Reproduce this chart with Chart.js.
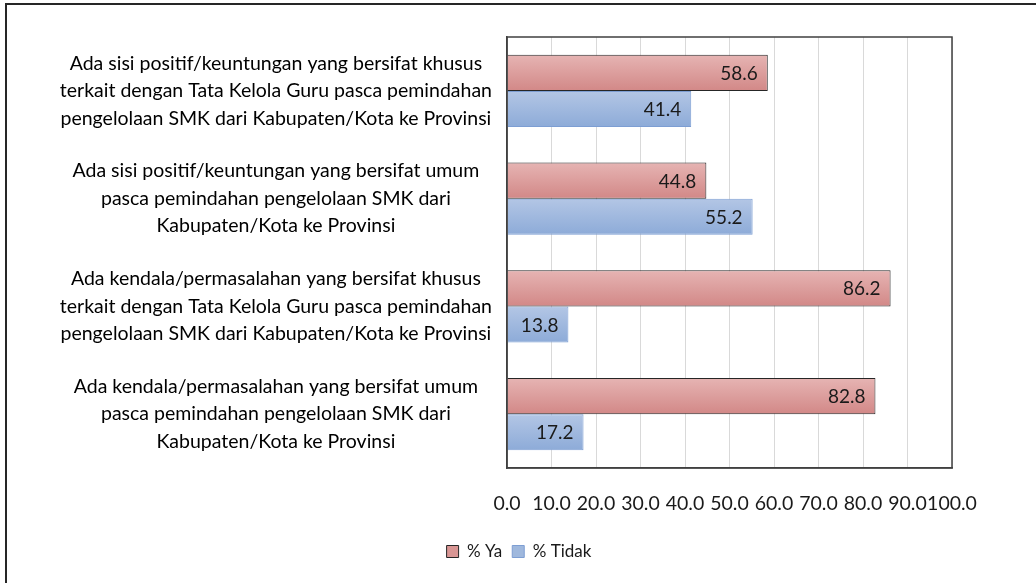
<!DOCTYPE html>
<html>
<head>
<meta charset="utf-8">
<script src="https://cdn.jsdelivr.net/npm/chart.js@4.4.1/dist/chart.umd.min.js"></script>
<style>
  html, body { margin: 0; padding: 0; background: #ffffff; overflow: hidden; }
  #wrap { position: relative; width: 1036px; height: 583px; }
  #frame { position: absolute; left: 5px; top: 3px; width: 1100px; height: 700px;
           border-left: 2px solid #262626; border-top: 2px solid #262626; pointer-events: none; }
  canvas { display: block; }
</style>
</head>
<body>
<div id="wrap">
  <canvas id="c" width="1036" height="583"></canvas>
  <div id="frame"></div>
</div>
<script>
const categories = [
  ["Ada sisi positif/keuntungan yang bersifat khusus", "terkait dengan Tata Kelola Guru pasca pemindahan", "pengelolaan SMK dari Kabupaten/Kota ke Provinsi"],
  ["Ada sisi positif/keuntungan yang bersifat umum", "pasca pemindahan pengelolaan SMK dari", "Kabupaten/Kota ke Provinsi"],
  ["Ada kendala/permasalahan yang bersifat khusus", "terkait dengan Tata Kelola Guru pasca pemindahan", "pengelolaan SMK dari Kabupaten/Kota ke Provinsi"],
  ["Ada kendala/permasalahan yang bersifat umum", "pasca pemindahan pengelolaan SMK dari", "Kabupaten/Kota ke Provinsi"]
];
const seriesNames = ["% Ya", "% Tidak"];
const yaValues = [58.6, 44.8, 86.2, 82.8];
const tidakValues = [41.4, 55.2, 13.8, 17.2];
const xTickLabels = ["0.0", "10.0", "20.0", "30.0", "40.0", "50.0", "60.0", "70.0", "80.0", "90.0", "100.0"];

const FONT = "Lato, 'Open Sans', sans-serif";
const CAT_PCT = 0.67;

function barGradient(top, bottom, datasetIndex) {
  return function (ctx) {
    const chart = ctx.chart;
    const ys = chart.scales.y;
    if (!ys || ctx.dataIndex === undefined || !chart.chartArea) return top;
    const center = ys.getPixelForValue(ctx.dataIndex);
    const group = (ys.height / categories.length) * CAT_PCT;
    const t = center - group / 2 + datasetIndex * group / 2;
    const b = t + group / 2;
    const g = chart.ctx.createLinearGradient(0, t, 0, b);
    g.addColorStop(0, top);
    g.addColorStop(1, bottom);
    return g;
  };
}

const valueLabels = {
  id: 'valueLabels',
  afterDatasetsDraw(chart) {
    const ctx = chart.ctx;
    ctx.save();
    ctx.font = "19px " + FONT;
    ctx.fillStyle = "#1a1a1a";
    ctx.textAlign = "right";
    ctx.textBaseline = "middle";
    chart.data.datasets.forEach((ds, di) => {
      const meta = chart.getDatasetMeta(di);
      meta.data.forEach((el, i) => {
        ctx.fillText(ds.data[i].toFixed(1), el.x - 10, el.y + 1);
      });
    });
    ctx.restore();
  }
};

const plotBorder = {
  id: 'plotBorder',
  afterDraw(chart) {
    const a = chart.chartArea;
    const ctx = chart.ctx;
    ctx.save();
    ctx.strokeStyle = "#404040";
    ctx.lineWidth = 1.5;
    ctx.strokeRect(a.left, a.top, a.right - a.left, a.bottom - a.top);
    ctx.restore();
  }
};

new Chart(document.getElementById('c'), {
  type: 'bar',
  data: {
    labels: categories,
    datasets: [
      {
        label: seriesNames[0],
        data: yaValues,
        backgroundColor: barGradient("#e6b4b3", "#d28887", 0),
        borderColor: "#262626",
        borderWidth: 1,
        borderSkipped: 'left',
        categoryPercentage: CAT_PCT,
        barPercentage: 1.0
      },
      {
        label: seriesNames[1],
        data: tidakValues,
        backgroundColor: barGradient("#b3c6e5", "#8dabd8", 1),
        borderColor: "#7d9ed3",
        borderWidth: 1,
        borderSkipped: 'left',
        categoryPercentage: CAT_PCT,
        barPercentage: 1.0
      }
    ]
  },
  options: {
    indexAxis: 'y',
    responsive: false,
    animation: false,
    devicePixelRatio: 1,
    layout: { padding: { left: 10, right: 8, top: 37, bottom: 13 } },
    scales: {
      x: {
        min: 0, max: 100,
        grid: { color: "#d9d9d9", lineWidth: 1, drawTicks: false },
        border: { display: true, color: "#404040", width: 1.5 },
        ticks: {
          stepSize: 10,
          padding: 24,
          color: "#1a1a1a",
          font: { family: FONT, size: 19.5 },
          maxRotation: 0,
          autoSkip: false,
          callback: (v, i) => xTickLabels[i]
        },
        afterFit(scale) { scale.height = 65; scale.paddingLeft = 0; scale.paddingRight = 0; }
      },
      y: {
        grid: { display: false, drawTicks: false },
        border: { display: true, color: "#404040", width: 1.5 },
        ticks: {
          crossAlign: 'center',
          padding: 15,
          color: "#000000",
          font: { family: FONT, size: 19.5, lineHeight: 1.41 },
          autoSkip: false
        },
        afterFit(scale) { scale.width = 497; scale.paddingTop = 0; scale.paddingBottom = 0; }
      },
      yRight: {
        type: 'category',
        position: 'right',
        display: true,
        grid: { display: false, drawTicks: false },
        border: { display: false },
        ticks: { display: false },
        afterFit(scale) { scale.width = 76; scale.paddingTop = 0; scale.paddingBottom = 0; }
      }
    },
    plugins: {
      legend: {
        position: 'bottom',
        labels: {
          boxWidth: 12,
          boxHeight: 12,
          padding: 10,
          color: "#1a1a1a",
          font: { family: FONT, size: 17 },
          generateLabels(chart) {
            return [
              { text: seriesNames[0], fillStyle: "#d99694", strokeStyle: "#262626", lineWidth: 1, datasetIndex: 0, fontColor: "#1a1a1a" },
              { text: seriesNames[1], fillStyle: "#9fb8dd", strokeStyle: "#7d9ed3", lineWidth: 1, datasetIndex: 1, fontColor: "#1a1a1a" }
            ];
          }
        }
      },
      tooltip: { enabled: false }
    }
  },
  plugins: [valueLabels, plotBorder]
});
</script>
</body>
</html>
